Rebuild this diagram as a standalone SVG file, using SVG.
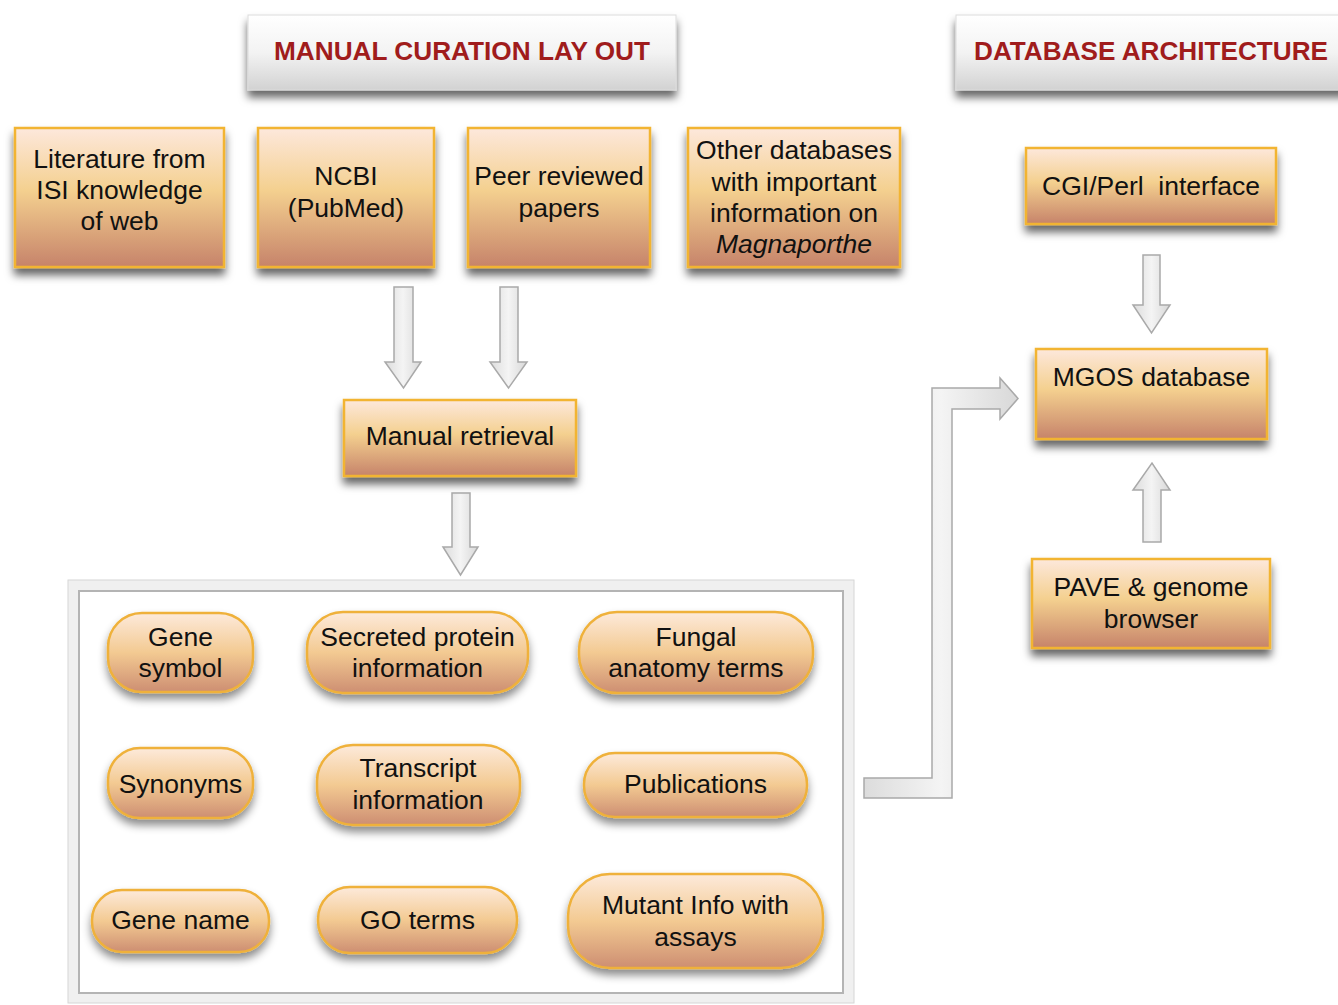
<svg xmlns="http://www.w3.org/2000/svg" width="1338" height="1005" viewBox="0 0 1338 1005">
<defs>
<linearGradient id="gBox" x1="0" y1="0" x2="0" y2="1">
<stop offset="0" stop-color="#fde8dc"/>
<stop offset="0.45" stop-color="#f4d08f"/>
<stop offset="1" stop-color="#c6836a"/>
</linearGradient>
<linearGradient id="gPill" x1="0" y1="0" x2="0" y2="1">
<stop offset="0" stop-color="#fdeadb"/>
<stop offset="0.5" stop-color="#f3ca92"/>
<stop offset="1" stop-color="#cd8e72"/>
</linearGradient>
<linearGradient id="gHead" x1="0" y1="0" x2="0" y2="1">
<stop offset="0" stop-color="#ffffff"/>
<stop offset="0.5" stop-color="#f3f3f3"/>
<stop offset="1" stop-color="#d2d2d2"/>
</linearGradient>
<linearGradient id="gArrV" x1="0" y1="0" x2="1" y2="0">
<stop offset="0" stop-color="#dcdcdc"/>
<stop offset="0.5" stop-color="#f4f4f4"/>
<stop offset="1" stop-color="#d8d8d8"/>
</linearGradient>
<filter id="sh" x="-10%" y="-20%" width="120%" height="160%">
<feDropShadow dx="0" dy="7" stdDeviation="4" flood-color="#000" flood-opacity="0.6"/>
</filter>
<filter id="shs" x="-10%" y="-20%" width="120%" height="160%">
<feDropShadow dx="0" dy="6" stdDeviation="4" flood-color="#000" flood-opacity="0.45"/>
</filter>
</defs>
<style>
.box{fill:url(#gBox);stroke:#f2b431;stroke-width:2.5;filter:url(#sh)}
.pill{fill:url(#gPill);stroke:#efb13a;stroke-width:2.5;filter:url(#shs)}
.head{fill:url(#gHead);stroke:#dcdcdc;stroke-width:1;filter:url(#sh)}
.arr{fill:url(#gArrV);stroke:#a9a9a9;stroke-width:1.5}
.t{font-family:"Liberation Sans",Arial,Helvetica,sans-serif;font-size:26.5px;fill:#111111;text-anchor:middle}
.h{font-family:"Liberation Sans",Arial,Helvetica,sans-serif;font-size:25px;font-weight:bold;fill:#a01c1c;text-anchor:middle}
</style>
<rect width="1338" height="1005" fill="#ffffff"/>

<g id="header-curation">
<rect class="head" x="248" y="15" width="428" height="75"/>
<text class="h" x="462" y="60" textLength="376" lengthAdjust="spacingAndGlyphs">MANUAL CURATION LAY OUT</text>
</g>
<g id="header-database">
<rect class="head" x="956" y="15" width="400" height="75"/>
<text class="h" x="1151" y="60" textLength="354" lengthAdjust="spacingAndGlyphs">DATABASE ARCHITECTURE</text>
</g>

<g id="container">
<rect x="68" y="580" width="786" height="423" fill="#f0f0f0" stroke="#d6d6d6" stroke-width="1"/>
<rect x="79" y="591" width="764" height="402" fill="#ffffff" stroke="#b4b4b4" stroke-width="2"/>
</g>

<g id="connectors">
<path class="arr" d="M394 287 L413 287 L413 362 L421 362 L403.5 388 L385 362 L394 362 Z"/>
<path class="arr" d="M500 287 L518 287 L518 362 L527 362 L508.5 388 L490 362 L500 362 Z"/>
<path class="arr" d="M452 493 L470 493 L470 547 L478 547 L460.5 575 L443 547 L452 547 Z"/>
<path class="arr" d="M1143 255 L1160 255 L1160 305 L1170 305 L1151.5 333 L1133 305 L1143 305 Z"/>
<path class="arr" d="M1143 542 L1161 542 L1161 490 L1170 490 L1152 463 L1133 490 L1143 490 Z"/>
<path class="arr" d="M864 778 L932 778 L932 388 L1000 388 L1000 378 L1018 398.5 L1000 419 L1000 409 L952 409 L952 798 L864 798 Z" fill="#ececec"/>
</g>

<g id="literature">
<rect class="box" x="15" y="128" width="209" height="139"/>
<text class="t" x="119.5" y="168">Literature from</text>
<text class="t" x="119.5" y="199">ISI knowledge</text>
<text class="t" x="119.5" y="230">of web</text>
</g>
<g id="ncbi">
<rect class="box" x="258" y="128" width="176" height="139"/>
<text class="t" x="346" y="185">NCBI</text>
<text class="t" x="346" y="217">(PubMed)</text>
</g>
<g id="peer">
<rect class="box" x="468" y="128" width="182" height="139"/>
<text class="t" x="559" y="185">Peer reviewed</text>
<text class="t" x="559" y="217">papers</text>
</g>
<g id="other">
<rect class="box" x="688" y="128" width="212" height="139"/>
<text class="t" x="794" y="159">Other databases</text>
<text class="t" x="794" y="191">with important</text>
<text class="t" x="794" y="222">information on</text>
<text class="t" x="794" y="253" font-style="italic">Magnaporthe</text>
</g>
<g id="manual-retrieval">
<rect class="box" x="344" y="400" width="232" height="76"/>
<text class="t" x="460" y="445">Manual retrieval</text>
</g>
<g id="cgi">
<rect class="box" x="1026" y="148" width="250" height="76"/>
<text class="t" x="1151" y="195" xml:space="preserve">CGI/Perl  interface</text>
</g>
<g id="mgos">
<rect class="box" x="1036" y="349" width="231" height="90"/>
<text class="t" x="1151.5" y="386">MGOS database</text>
</g>
<g id="pave">
<rect class="box" x="1032" y="559" width="238" height="89"/>
<text class="t" x="1151" y="596">PAVE &amp; genome</text>
<text class="t" x="1151" y="628">browser</text>
</g>

<g id="gene-symbol">
<rect class="pill" x="108" y="613" width="145" height="79" rx="34"/>
<text class="t" x="180.5" y="646">Gene</text>
<text class="t" x="180.5" y="677">symbol</text>
</g>
<g id="secreted">
<rect class="pill" x="307" y="612" width="221" height="81" rx="36"/>
<text class="t" x="417.5" y="646">Secreted protein</text>
<text class="t" x="417.5" y="677">information</text>
</g>
<g id="fungal">
<rect class="pill" x="579" y="612" width="234" height="81" rx="38"/>
<text class="t" x="696" y="646">Fungal</text>
<text class="t" x="696" y="677">anatomy terms</text>
</g>
<g id="synonyms">
<rect class="pill" x="108" y="748" width="145" height="70" rx="32"/>
<text class="t" x="180.5" y="793">Synonyms</text>
</g>
<g id="transcript">
<rect class="pill" x="317" y="745" width="203" height="80" rx="36"/>
<text class="t" x="418" y="777">Transcript</text>
<text class="t" x="418" y="809">information</text>
</g>
<g id="publications">
<rect class="pill" x="584" y="753" width="223" height="64" rx="31"/>
<text class="t" x="695.5" y="793">Publications</text>
</g>
<g id="gene-name">
<rect class="pill" x="92" y="890" width="177" height="62" rx="30"/>
<text class="t" x="180.5" y="929">Gene name</text>
</g>
<g id="go-terms">
<rect class="pill" x="318" y="887" width="199" height="66" rx="32"/>
<text class="t" x="417.5" y="929">GO terms</text>
</g>
<g id="mutant">
<rect class="pill" x="568" y="874" width="255" height="94" rx="42"/>
<text class="t" x="695.5" y="914">Mutant Info with</text>
<text class="t" x="695.5" y="946">assays</text>
</g>
</svg>
